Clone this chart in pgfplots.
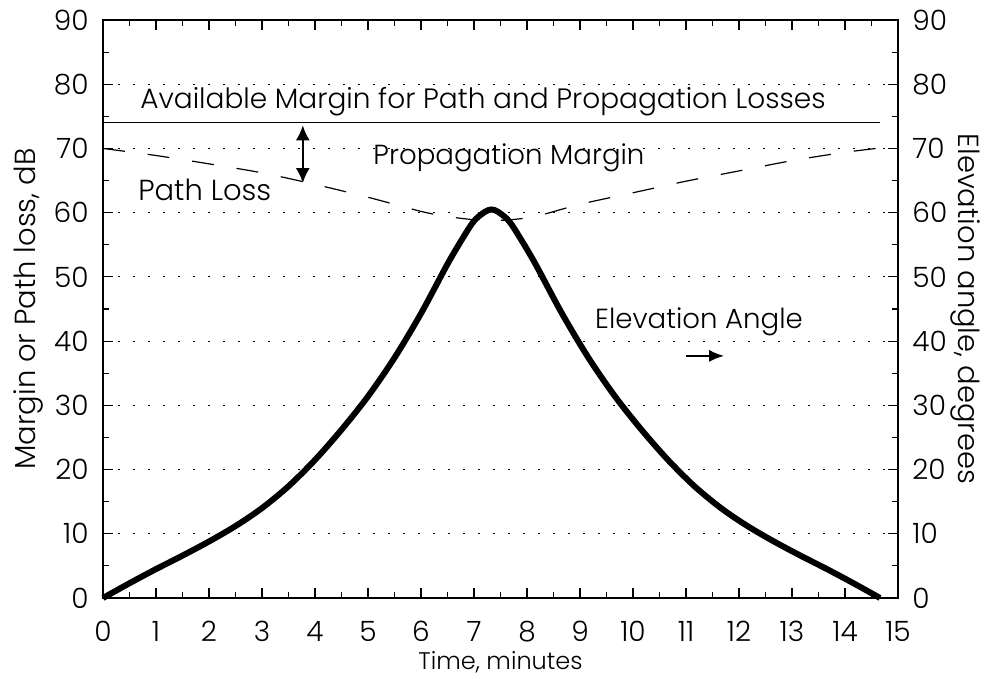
\documentclass[border=0pt]{standalone}
\usepackage{pgfplots}
\pgfplotsset{compat=1.18}
\usepackage{fontspec}
\setmainfont{Poppins}[UprightFont=*-Light]
\usetikzlibrary{arrows.meta}

\begin{document}
\fontsize{13.5}{16}\selectfont
\begin{tikzpicture}
\pgfplotsset{
  chart/.style={
    scale only axis, width=397.5pt, height=289pt,
    xmin=0, xmax=15, ymin=0, ymax=90,
    /pgf/number format/assume math mode=true,
    tick align=inside,
    major tick length=5pt, minor tick length=3pt,
    every tick/.style={black, line width=0.6pt},
    axis line style={line width=1pt},
    ytick={0,10,...,90}, minor ytick={5,15,...,85},
    tick label style={font=\fontsize{14}{16}\selectfont},
    label style={font=\fontsize{14.5}{17}\selectfont},
  },
}
% right-hand scale: elevation angle
\begin{axis}[chart,
    hide x axis,
    axis y line*=right,
    ylabel={Elevation angle, degrees},
    ylabel style={at={(axis description cs:1.0843,0.5)}, anchor=center, rotate=180},
    yticklabel style={xshift=2.5pt},
]
\end{axis}
\begin{axis}[chart,
    xtick={0,...,15}, minor xtick={0.5,1.5,...,14.5},
    xtick pos=both, ytick pos=left,
    ymajorgrids=true,
    grid style={black, dash pattern=on 0.8pt off 6.7pt, line width=0.6pt},
    xlabel={Time, minutes},
    xlabel style={at={(axis description cs:0.5,-0.1107)}, anchor=center, font=\fontsize{12}{14}\selectfont},
    ylabel={Margin or Path loss, dB},
    ylabel style={at={(axis description cs:-0.0943,0.5)}, anchor=center},
    yticklabel style={xshift=-2.5pt},
    xticklabel style={yshift=-7pt},
    clip=false,
]

% elevation angle
\addplot[black, line width=3pt, smooth] coordinates {
(0,0) (0.5,2.3) (1,4.5) (1.5,6.6) (2,8.8) (2.5,11.2) (3,14.0) (3.5,17.4)
(4,21.5) (4.5,26.2) (5,31.4) (5.5,37.4) (6,44.3) (6.5,52.0) (6.8,56.2)
(7.0,58.7) (7.2,60.1) (7.33,60.5) (7.46,60.1) (7.66,58.7) (7.86,56.2)
(8.16,52.0) (8.66,44.3) (9.16,37.4) (9.66,31.4) (10.16,26.2) (10.66,21.5)
(11.16,17.4) (11.66,14.0) (12.16,11.2) (12.66,8.8) (13.16,6.6) (13.66,4.5)
(14.16,2.3) (14.66,0)
};

% path loss
\addplot[black, line width=0.6pt, smooth, dash pattern=on 11pt off 11.5pt] coordinates {
(0,70) (1,68.9) (2,67.6) (3,66.2) (4,64.4) (5,62.4) (6,60.2) (6.5,59.4)
(7,58.9) (7.33,58.8) (7.7,58.9) (8.2,59.5) (9,61.3) (10,63.1) (11,64.9)
(12,66.5) (13,68.1) (14,69.4) (14.8,70.2)
};

% available margin
\addplot[black, line width=0.6pt] coordinates {(0,74) (14.66,74)};

\node[font=\fontsize{14}{16}\selectfont] at (axis cs:7.17,77.3) {Available Margin for Path and Propagation Losses};
\node[font=\fontsize{13.8}{16}\selectfont] at (axis cs:7.66,68.5) {Propagation Margin};
\node[font=\fontsize{14.5}{16}\selectfont] at (axis cs:1.92,63.5) {Path Loss};
\node[font=\fontsize{13.8}{16}\selectfont, anchor=west, inner sep=0pt] at (axis cs:9.28,43) {Elevation Angle};
\draw[line width=1pt, {Latex[length=7.5pt,width=7pt]}-{Latex[length=7.5pt,width=7pt]}]
  (axis cs:3.77,73.6) -- (axis cs:3.77,64.6);
\draw[line width=1pt, -{Latex[length=7.5pt,width=6pt]}]
  (axis cs:11.0,37.7) -- (axis cs:11.72,37.7);
\end{axis}
\pgfresetboundingbox
\useasboundingbox (-51.5pt,-41.5pt) rectangle (444.5pt,299pt);
\end{tikzpicture}
\end{document}
